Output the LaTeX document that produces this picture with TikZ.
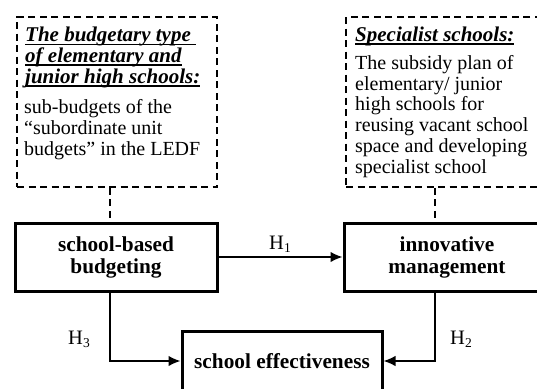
\documentclass[tikz,border=0pt]{standalone}
\usepackage{fontspec}
\setmainfont{Liberation Serif}
\usetikzlibrary{arrows.meta}
\newcommand\myul[1]{\setbox0\hbox{#1}\rlap{\rule[-3.5pt]{\wd0}{1.8pt}}\box0}
\begin{document}
\begin{tikzpicture}[x=1pt,y=-1pt,
  dbox/.style={draw, dashed, dash pattern=on 7pt off 4.5pt, line width=1.5pt, inner sep=0pt},
  sbox/.style={draw, line width=3pt, inner sep=0pt, align=center,
    font=\fontsize{21.3}{22}\selectfont\bfseries},
  body/.style={inner sep=0pt, align=left, font=\fontsize{20}{21}\selectfont},
  ttl/.style={inner sep=0pt, align=left, font=\fontsize{21}{20.6}\selectfont\bfseries\itshape},
  hlab/.style={inner sep=0pt, font=\fontsize{20.5}{20}\selectfont},
  conn/.style={line width=1.5pt},
  arr/.style={conn, -{Latex[length=12pt,width=10.5pt]}},
  dconn/.style={line width=1.5pt, dash pattern=on 7pt off 4.5pt}]
\useasboundingbox (0,0) rectangle (537,388);
\clip (0,0) rectangle (537,388);
% dashed boxes
\node[dbox, minimum width=200pt, minimum height=170pt] (lbox) at (117,102) {};
\node[dbox, minimum width=214pt, minimum height=170pt] (rbox) at (453,102) {};
% texts in left box (anchored at the baseline of the last line)
\node[ttl, anchor=base west] (lt) at (25,83) {\myul{The budgetary type }\\\myul{of elementary and}\\\myul{junior high schools:}};
\node[body, anchor=base west] (lb) at (24,155) {sub-budgets of the\\“subordinate unit\\budgets” in the LEDF};
% texts in right box
\node[ttl, anchor=base west] (rt) at (355,41) {\myul{Specialist schools:}};
\node[body, anchor=base west, font=\fontsize{20}{20.7}\selectfont] (rb) at (355,173) {The subsidy plan of\\elementary/ junior\\high schools for\\reusing vacant school\\space and developing\\specialist school};
% solid boxes
\node[sbox, minimum width=202pt, minimum height=68pt] (sbb) at (116,257) {school-based\\budgeting};
\node[sbox, minimum width=206pt, minimum height=68pt] (im) at (447,257) {innovative\\management};
\node[sbox, minimum width=200pt, minimum height=60pt] (se) at (282,361) {school effectiveness};
% anchor coordinates for vertical lines
\coordinate (l1) at (110,0);
\coordinate (r1) at (435,0);
% dashed connectors
\draw[dconn] (lbox.south -| l1) -- (sbb.north -| l1);
\draw[dconn] (rbox.south -| r1) -- (im.north -| r1);
% arrows
\draw[arr] (sbb.east) -- (im.west);
\draw[arr] (sbb.south -| l1) |- (se.west);
\draw[arr] (im.south -| r1) |- (se.east);
% labels
\node[hlab] (h1) at (280,244) {H\raisebox{-0.35ex}{\fontsize{13.5}{13.5}\selectfont 1}};
\node[hlab] (h3) at (79,339) {H\raisebox{-0.35ex}{\fontsize{13.5}{13.5}\selectfont 3}};
\node[hlab] (h2) at (461,339) {H\raisebox{-0.35ex}{\fontsize{13.5}{13.5}\selectfont 2}};
\end{tikzpicture}
\end{document}
